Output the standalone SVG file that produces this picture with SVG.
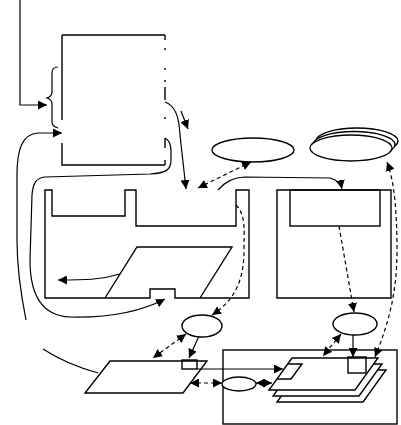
<svg xmlns="http://www.w3.org/2000/svg" width="401" height="425" viewBox="0 0 401 425">
<style>
.s{fill:none;stroke:#000;stroke-width:1.4}
.w{fill:#fff;stroke:#000;stroke-width:1.4}
.c{fill:none;stroke:#000;stroke-width:1.2}
.d{fill:none;stroke:#000;stroke-width:1.2;stroke-dasharray:4 3}
</style>
<defs>
<marker id="ah" viewBox="0 0 10 10" refX="10" refY="5" markerWidth="9" markerHeight="9" markerUnits="userSpaceOnUse" orient="auto-start-reverse"><path d="M0,0 L10,5 L0,10 z" fill="#000"/></marker>
</defs>
<rect width="401" height="425" fill="#fff"/>
<g id="topbox">
<path class="s" d="M62,35 V120 M62,143 V165 H165 M62,35 H165"/>
<path class="s" d="M165,35 V40 M165,48 V50 M165,68 V70 M165,80 V82 M165,87 V100 M165,117 V119 M165,138 V148 M165,160 V165"/>
</g>
<g id="brace">
<path class="c" d="M58,67 C54,67 52,69 52,73 L52,92 C52,95 50,97 47,98 C50,99 52,101 52,104 L52,122 C52,125 54,127 58,128"/>
</g>
<g id="leftblock">
<path class="s" d="M45,190 H52 V216 H125 V190 H136 V226 H236 V190 H249 V298 H175 V289 H150 V298 H45 Z"/>
<path class="s" d="M105,298 L137,247 H232 L200,298"/>
</g>
<g id="rightblock">
<path class="s" d="M277,190 H391 V298 H277 Z"/>
<rect class="s" x="290" y="190" width="90" height="36"/>
</g>
<g id="ellipse1"><ellipse class="s" cx="253" cy="150" rx="41" ry="12"/></g>
<g id="ellipsestack">
<ellipse class="w" cx="357" cy="141" rx="41" ry="13"/>
<ellipse class="w" cx="354" cy="144.5" rx="41" ry="13"/>
<ellipse class="w" cx="351" cy="148" rx="41" ry="13"/>
</g>
<g id="ellipse3"><ellipse class="s" cx="202" cy="326" rx="20" ry="11"/></g>
<g id="ellipse4"><ellipse class="s" cx="355" cy="324" rx="22" ry="11"/></g>
<g id="bottomleft">
<path class="s" d="M110,361 H207 L183,393 H85 Z"/>
<rect class="s" x="182" y="360" width="15" height="9"/>
</g>
<g id="bottomright">
<rect class="s" x="223" y="350" width="174" height="74"/>
<path class="w" d="M300,370 H386 L363,402 H277 Z"/>
<path class="w" d="M296,364 H382 L359,396 H273 Z"/>
<path class="w" d="M292,358 H378 L355,390 H269 Z"/>
<path class="s" d="M288,364 H302 L291,379 H277"/>
<rect class="s" x="348" y="357" width="18" height="16"/>
<ellipse class="w" cx="239" cy="384" rx="17" ry="7"/>
</g>
<g id="connectors">
<path class="c" d="M20,0 V105 H47" marker-end="url(#ah)"/>
<path class="c" d="M165,102 C176,106 179,118 180,135 L186,189" marker-end="url(#ah)"/>
<path class="c" d="M181,111 L188,129" marker-end="url(#ah)"/>
<path class="c" d="M165,138 C172,142 171,150 171,160 C171,170 166,173 150,174 L45,177 C36,178 33,183 32,195 L30,260 C30,300 45,316 70,317 C110,318 140,312 165,299" marker-end="url(#ah)"/>
<path class="c" d="M26,320 C21,295 17,270 17,240 L17,175 C17,150 22,134 38,133 L62,133" marker-end="url(#ah)"/>
<path class="c" d="M43,349 C60,360 80,368 98,373"/>
<path class="c" d="M120,274 C100,280 85,280 58,280" marker-end="url(#ah)"/>
<path class="c" d="M218,190 C225,182 232,178 245,177 L330,178 C337,180 341,184 342,189" marker-end="url(#ah)"/>
<path class="d" d="M198,188 L251,162" marker-start="url(#ah)" marker-end="url(#ah)"/>
<path class="d" d="M236,205 C246,215 244,230 244,250 C244,280 235,300 212,315" marker-end="url(#ah)"/>
<path class="d" d="M186,334 L153,358" marker-start="url(#ah)" marker-end="url(#ah)"/>
<path class="c" d="M199,336 L189,358" marker-end="url(#ah)"/>
<path class="c" d="M197,369 L283,369" marker-end="url(#ah)"/>
<path class="d" d="M190,383 L222,383" marker-start="url(#ah)" marker-end="url(#ah)"/>
<path class="c" d="M256,383 L272,383" marker-start="url(#ah)" marker-end="url(#ah)"/>
<path class="d" d="M339,226 L354,312" marker-end="url(#ah)"/>
<path class="c" d="M353,335 L353,357" marker-end="url(#ah)"/>
<path class="d" d="M341,334 L323,356" marker-start="url(#ah)" marker-end="url(#ah)"/>
<path class="d" d="M387,162 C394,180 397,210 397,250 C397,290 390,320 375,357" marker-start="url(#ah)" marker-end="url(#ah)"/>
</g>
</svg>
